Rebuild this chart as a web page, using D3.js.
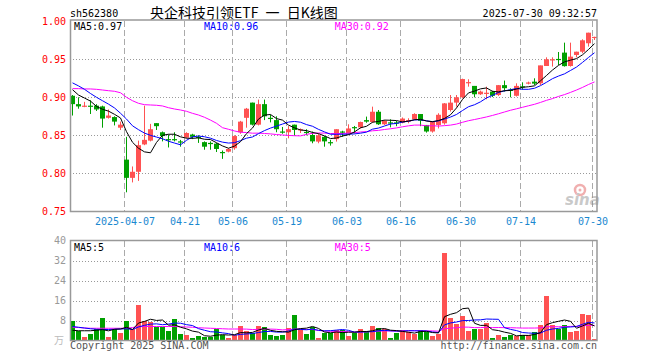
<!DOCTYPE html>
<html><head><meta charset="utf-8">
<script src="https://cdn.jsdelivr.net/npm/d3@7"></script>
<style>body{margin:0;background:#fff}svg{display:block}</style>
</head><body>
<svg id="c" width="660" height="360"></svg>
<script>
const dates = ["2025-03-24","2025-03-25","2025-03-26","2025-03-27","2025-03-28","2025-03-31","2025-04-01","2025-04-02","2025-04-03","2025-04-07",
"2025-04-08","2025-04-09","2025-04-10","2025-04-11","2025-04-14","2025-04-15","2025-04-16","2025-04-17","2025-04-18","2025-04-21",
"2025-04-22","2025-04-23","2025-04-24","2025-04-25","2025-04-28","2025-04-29","2025-04-30","2025-05-06","2025-05-07","2025-05-08",
"2025-05-09","2025-05-12","2025-05-13","2025-05-14","2025-05-15","2025-05-16","2025-05-19","2025-05-20","2025-05-21","2025-05-22",
"2025-05-23","2025-05-26","2025-05-27","2025-05-28","2025-05-29","2025-05-30","2025-06-03","2025-06-04","2025-06-05","2025-06-06",
"2025-06-09","2025-06-10","2025-06-11","2025-06-12","2025-06-13","2025-06-16","2025-06-17","2025-06-18","2025-06-19","2025-06-20",
"2025-06-23","2025-06-24","2025-06-25","2025-06-26","2025-06-27","2025-06-30","2025-07-01","2025-07-02","2025-07-03","2025-07-04",
"2025-07-07","2025-07-08","2025-07-09","2025-07-10","2025-07-11","2025-07-14","2025-07-15","2025-07-16","2025-07-17","2025-07-18",
"2025-07-21","2025-07-22","2025-07-23","2025-07-24","2025-07-25","2025-07-28","2025-07-29","2025-07-30"];

const open = [0.902,0.891,0.888,0.889,0.889,0.888,0.873,0.874,0.860,0.818,
0.794,0.802,0.838,0.843,0.866,0.854,0.845,0.845,0.842,0.847,
0.851,0.848,0.841,0.840,0.839,0.828,0.8285,0.833,0.854,0.873,
0.893,0.864,0.891,0.873,0.870,0.855,0.854,0.864,0.857,0.8545,
0.8504,0.8417,0.848,0.841,0.845,0.855,0.8526,0.8608,0.8605,0.870,
0.8675,0.881,0.8645,0.867,0.867,0.8667,0.868,0.871,0.878,0.8636,
0.855,0.8636,0.8658,0.8833,0.893,0.900,0.919,0.915,0.904,0.9055,
0.9075,0.903,0.916,0.910,0.902,0.9145,0.9188,0.9206,0.9184,0.9412,
0.9495,0.9505,0.9588,0.9412,0.9557,0.960,0.9711,0.979];

const high = [0.903,0.900,0.894,0.896,0.891,0.889,0.884,0.875,0.868,0.848,
0.809,0.843,0.889,0.865,0.866,0.855,0.851,0.854,0.844,0.854,
0.852,0.850,0.842,0.842,0.840,0.830,0.833,0.850,0.869,0.886,
0.893,0.897,0.897,0.877,0.875,0.861,0.862,0.864,0.859,0.858,
0.855,0.852,0.849,0.844,0.858,0.856,0.8645,0.8623,0.868,0.8746,
0.8877,0.8833,0.870,0.871,0.869,0.8735,0.8724,0.879,0.878,0.8636,
0.868,0.879,0.8925,0.903,0.903,0.9245,0.9237,0.9149,0.9088,0.914,
0.9085,0.9162,0.922,0.9118,0.9184,0.9197,0.9206,0.925,0.9417,0.9526,
0.9526,0.9596,0.9719,0.9719,0.960,0.9763,0.985,0.9797];

const low = [0.876,0.885,0.887,0.878,0.882,0.860,0.872,0.863,0.857,0.775,
0.788,0.790,0.837,0.842,0.857,0.842,0.834,0.842,0.835,0.846,
0.845,0.840,0.831,0.831,0.828,0.819,0.8276,0.831,0.852,0.860,
0.863,0.863,0.870,0.867,0.854,0.852,0.846,0.8496,0.853,0.850,
0.8395,0.8395,0.835,0.8364,0.8417,0.848,0.851,0.8526,0.859,0.8665,
0.8665,0.8636,0.8636,0.8605,0.862,0.8658,0.8658,0.870,0.862,0.8535,
0.8535,0.859,0.864,0.8812,0.8877,0.8987,0.914,0.900,0.9031,0.8974,
0.9003,0.9018,0.9075,0.900,0.901,0.910,0.917,0.9162,0.9162,0.9412,
0.9404,0.9425,0.9404,0.9404,0.9526,0.958,0.9667,0.9754];

const close = [0.891,0.888,0.889,0.888,0.884,0.872,0.876,0.868,0.864,0.794,
0.802,0.837,0.844,0.858,0.862,0.849,0.844,0.844,0.841,0.853,
0.848,0.847,0.835,0.839,0.832,0.827,0.832,0.849,0.868,0.885,
0.864,0.891,0.875,0.872,0.858,0.854,0.858,0.857,0.858,0.854,
0.842,0.850,0.842,0.8405,0.858,0.8545,0.859,0.8603,0.8675,0.868,
0.881,0.8645,0.869,0.8665,0.866,0.872,0.870,0.878,0.869,0.855,
0.868,0.877,0.892,0.893,0.900,0.924,0.920,0.904,0.9075,0.906,
0.902,0.916,0.912,0.909,0.915,0.914,0.9195,0.918,0.942,0.950,
0.950,0.950,0.941,0.9535,0.960,0.975,0.985,0.9795];

const volume = [8.0,3.9,1.5,2.7,4.5,9.1,1.5,4.7,3.2,8.0,
4.7,14.3,8.0,7.5,5.6,5.6,4.0,8.7,2.7,2.3,
1.1,1.9,1.6,1.6,4.5,2.1,1.1,2.3,5.9,4.0,
2.9,5.9,5.5,2.1,1.9,2.1,5.1,10.3,4.5,2.7,
5.5,1.1,3.2,2.9,4.3,4.3,1.9,3.2,4.5,4.0,
5.9,5.1,4.5,1.1,3.2,4.3,3.5,2.7,4.3,3.5,
1.9,2.7,35.2,9.1,6.7,9.9,4.0,4.8,4.8,6.9,
1.1,2.3,1.6,2.4,1.9,2.1,2.1,3.5,6.1,17.9,
6.1,4.8,6.1,3.5,4.0,10.7,10.1,0.8];

// moving-average values at the left edge (their earlier data is off-chart)
const ma5Head = [0.910,0.903,0.899,0.895];
const ma10Head = [0.919,0.915,0.9105,0.905,0.900,0.8955,0.891,0.886,0.879];
const ma30Head = [0.9114,0.9114,0.911,0.911,0.9105,0.9096,0.9087,0.9079,0.906,0.900,
0.8955,0.8921,0.8903,0.8899,0.8895,0.8886,0.8863,0.8846,0.8833,0.8816,
0.8789,0.8767,0.8737,0.870,0.8658,0.860,0.8579,0.8557,0.854];
const vma5Head = [4.1,3.9,3.9,3.9];
const vma10Head = [5.6,5.3,5.0,4.7,4.5,4.4,4.4,4.5,4.6];
const vma30Head = [5.3,5.2,5.0,4.9,4.9,4.9,4.9,4.9,4.9,4.9,
5.2,5.5,5.6,5.6,5.6,5.6,5.6,5.6,5.5,5.4,
5.3,5.1,5.0,4.9,4.8,4.7,4.6,4.6,4.6];

const priceTicks = [1.00,0.95,0.90,0.85,0.80,0.75];
const volTicks = [40,32,24,16,8];
const tickDates = ["2025-04-07","2025-04-21","2025-05-06","2025-05-19","2025-06-03","2025-06-16","2025-06-30","2025-07-14","2025-07-30"];
const tickLabels = ["2025-04-07","04-21","05-06","05-19","06-03","06-16","06-30","07-14","07-30"];
const maLegend = [["MA5",0.97],["MA10",0.96],["MA30",0.92]];
const volMaLegend = [["MA5",5],["MA10",6],["MA30",5]];
const code = "sh562380";
const titleParts = ["央企科技引领ETF", " 一 ", "日K线图"];
const stamp = "2025-07-30 09:32:57";

const RED = "#ff5252", GREEN = "#00a000";
const maColors = ["#000000","#0000ff","#ff00ff"];
const MONO = "'DejaVu Sans Mono', monospace";

function movingAvg(arr, n, head){
  return arr.map((v,i)=> i < n-1 ? head[i] : d3.mean(arr.slice(i-n+1,i+1)));
}

const svg = d3.select("#c");
const L = 70, R = 597;
const x = d3.scaleLinear().domain([0, dates.length-1]).range([72.5, 594.5]);
const y = d3.scaleLinear().domain([0.75, 1.00]).range([211.3, 21.3]);
const yv = d3.scaleLinear().domain([0, 40]).range([340.5, 240.5]);
const idx = tickDates.map(d => dates.indexOf(d));

// header
svg.append("text").attr("x",70).attr("y",16.5).attr("font-family",MONO).attr("font-size",10).attr("fill","#000").text(code);
const tt = svg.append("text").attr("x",150).attr("y",17.5).attr("font-family","'Noto Sans CJK SC', sans-serif").attr("font-size",14).attr("fill","#000").attr("xml:space","preserve").style("white-space","pre");
tt.append("tspan").text(titleParts[0]);
tt.append("tspan").attr("dx",4).text(titleParts[1]);
tt.append("tspan").attr("dx",4).text(titleParts[2]);
svg.append("text").attr("x",597).attr("y",16.5).attr("text-anchor","end").attr("font-family",MONO).attr("font-size",10).attr("fill","#000").text(stamp);

function panel(top, bottom, yScale, ticks, gridTicks, fmt, labelColor){
  const g = svg.append("g");
  g.selectAll("line.h").data(gridTicks).join("line")
    .attr("x1",L).attr("x2",R).attr("y1",d=>Math.round(yScale(d))+0.5).attr("y2",d=>Math.round(yScale(d))+0.5)
    .attr("stroke","#999").attr("stroke-dasharray","1,2").attr("shape-rendering","crispEdges");
  g.selectAll("line.v").data(idx).join("line")
    .attr("x1",d=>x(d)-2).attr("x2",d=>x(d)-2).attr("y1",top).attr("y2",bottom)
    .attr("stroke","#aaa").attr("stroke-dasharray","6,3").attr("shape-rendering","crispEdges");
  const ax = d3.axisLeft(yScale).tickValues(ticks).tickFormat(fmt).tickSize(0).tickPadding(4);
  const ag = svg.append("g").attr("transform",`translate(${L},0)`).call(ax);
  ag.select(".domain").remove();
  ag.selectAll("text").attr("font-family",MONO).attr("font-size",10).attr("fill",labelColor);
  return g;
}

panel(20.5, 211.5, y, priceTicks, [0.95,0.90,0.85,0.80], d3.format(".2f"), "#ff0000");
panel(240.5, 340.5, yv, volTicks, [32,24,16,8], d3.format("d"), "#999");
svg.append("text").attr("x",64).attr("y",344).attr("text-anchor","end").attr("font-family","'Noto Sans CJK SC', sans-serif").attr("font-size",10).attr("fill","#bbb").text("万");

const xa = d3.axisBottom(x).tickValues(idx).tickFormat((d,i)=>tickLabels[i]).tickSize(0).tickPadding(6);
const xg = svg.append("g").attr("transform","translate(-2,211.5)").call(xa);
xg.select(".domain").remove();
xg.selectAll("text").attr("font-family",MONO).attr("font-size",10).attr("fill","#1a88d0");

// sina watermark
const wm = svg.append("g").attr("opacity",0.45);
wm.append("circle").attr("cx",580).attr("cy",190).attr("r",5).attr("fill","none").attr("stroke","#e05050").attr("stroke-width",2.5);
wm.append("circle").attr("cx",580).attr("cy",190).attr("r",1.5).attr("fill","#e05050");
wm.append("text").attr("x",565).attr("y",205).attr("font-family","'DejaVu Sans', sans-serif").attr("font-style","italic").attr("font-weight","bold").attr("font-size",15).attr("fill","#888").text("sina");

const N = dates.length;
const data = d3.range(N).map(i=>({i,o:open[i],h:high[i],l:low[i],c:close[i],v:volume[i],up:close[i]>=open[i]}));
const cg = svg.append("g");
cg.selectAll("line.w").data(data).join("line")
  .attr("x1",d=>x(d.i)).attr("x2",d=>x(d.i)).attr("y1",d=>y(d.h)).attr("y2",d=>y(d.l))
  .attr("stroke",d=>d.up?RED:GREEN).attr("stroke-width",1);
cg.selectAll("rect").data(data).join("rect")
  .attr("x",d=>x(d.i)-2.5).attr("width",5)
  .attr("y",d=>y(Math.max(d.o,d.c)))
  .attr("height",d=>Math.max(1.2, y(Math.min(d.o,d.c))-y(Math.max(d.o,d.c))))
  .attr("fill",d=>d.up?RED:GREEN);

svg.append("g").selectAll("rect").data(data).join("rect")
  .attr("x",d=>x(d.i)-2.5).attr("width",5)
  .attr("y",d=>yv(d.v)).attr("height",d=>yv(0)-yv(d.v))
  .attr("fill",d=>d.up?RED:GREEN).attr("shape-rendering","crispEdges");

const pMA = [movingAvg(close,5,ma5Head), movingAvg(close,10,ma10Head), movingAvg(close,30,ma30Head)];
const vMA = [movingAvg(volume,5,vma5Head), movingAvg(volume,10,vma10Head), movingAvg(volume,30,vma30Head)];
const lineP = d3.line().x((d,i)=>x(i)).y(d=>y(d));
const lineV = d3.line().x((d,i)=>x(i)).y(d=>yv(d));
[2,1,0].forEach(k=>{
  svg.append("path").attr("d",lineP(pMA[k])).attr("fill","none").attr("stroke",maColors[k]).attr("stroke-width",1);
  svg.append("path").attr("d",lineV(vMA[k])).attr("fill","none").attr("stroke",maColors[k]).attr("stroke-width",1);
});

[[20,211.5],[240.5,340.5]].forEach(([t,b])=>{
  svg.append("rect").attr("x",70.5).attr("y",t).attr("width",R-70.5).attr("height",b-t)
    .attr("fill","none").attr("stroke","#999").attr("stroke-width",1.5);
});

const legX = [74,204,334.7];
maLegend.forEach((m,k)=>{
  svg.append("text").attr("x",legX[k]).attr("y",30).attr("font-family",MONO).attr("font-size",10).attr("fill",maColors[k]).text(m[0]+":"+d3.format(".2f")(m[1]));
});
volMaLegend.forEach((m,k)=>{
  svg.append("text").attr("x",legX[k]).attr("y",250.5).attr("font-family",MONO).attr("font-size",10).attr("fill",maColors[k]).text(m[0]+":"+m[1]);
});

svg.append("text").attr("x",70).attr("y",349).attr("font-family",MONO).attr("font-size",10).attr("fill","#555").text("Copyright 2025 SINA.COM");
svg.append("text").attr("x",597).attr("y",349).attr("text-anchor","end").attr("font-family",MONO).attr("font-size",10).attr("fill","#555").text("http://finance.sina.com.cn");
</script>
</body></html>
